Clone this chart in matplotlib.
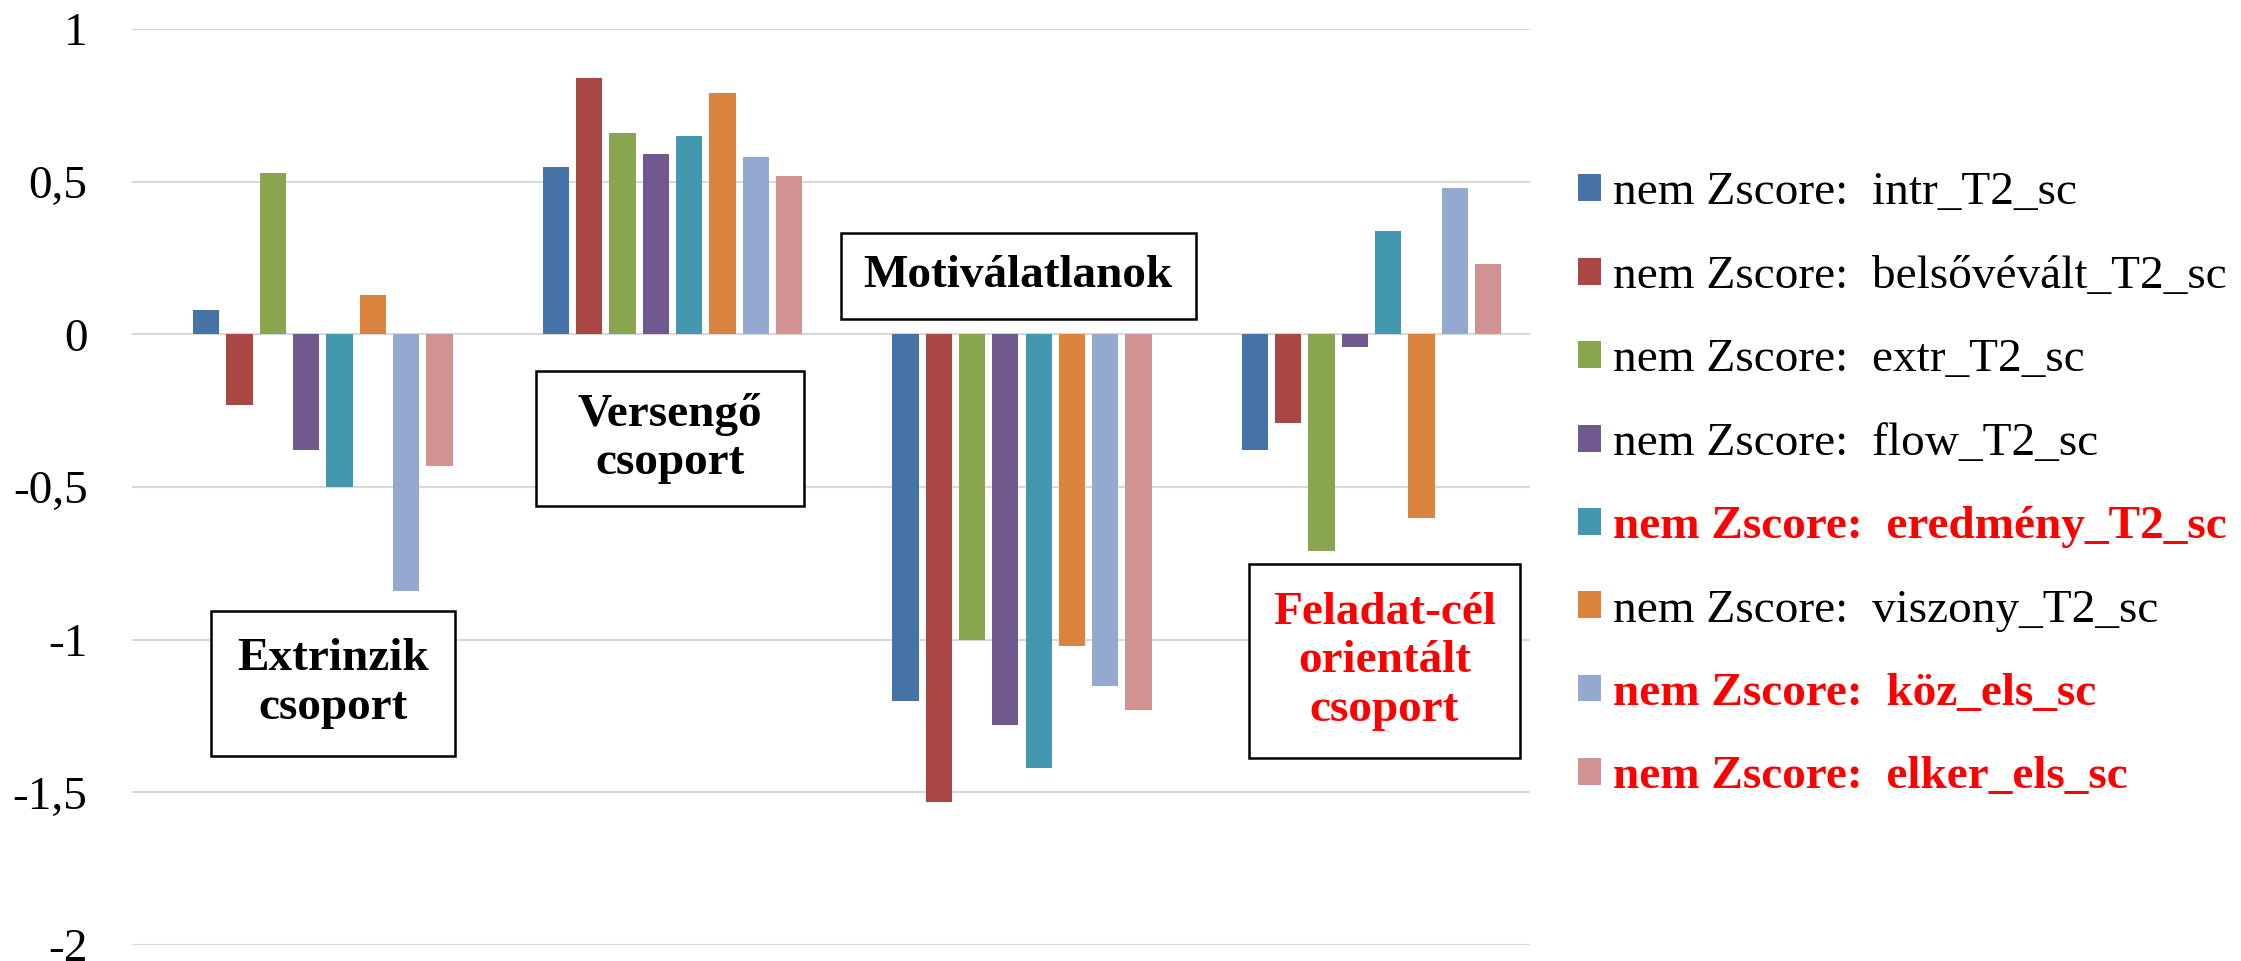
import matplotlib
matplotlib.use("Agg")
import matplotlib.pyplot as plt
import matplotlib.patches as patches
import numpy as np

plt.rcParams['font.family'] = ['Liberation Serif', 'DejaVu Serif']

# Groups (clusters on the x axis)
groups = ["Extrinzik", "Versengő", "Motiválatlanok", "Feladat-cél"]

# Series names as in the legend
series = [
    "nem Zscore:  intr_T2_sc",
    "nem Zscore:  belsővévált_T2_sc",
    "nem Zscore:  extr_T2_sc",
    "nem Zscore:  flow_T2_sc",
    "nem Zscore:  eredmény_T2_sc",
    "nem Zscore:  viszony_T2_sc",
    "nem Zscore:  köz_els_sc",
    "nem Zscore:  elker_els_sc",
]
highlighted = [False, False, False, False, True, False, True, True]

# values per series, one per group
intr = [0.08, 0.55, -1.20, -0.38]
belso = [-0.23, 0.84, -1.53, -0.29]
extr = [0.53, 0.66, -1.00, -0.71]
flow = [-0.38, 0.59, -1.28, -0.04]
eredmeny = [-0.50, 0.65, -1.42, 0.34]
viszony = [0.13, 0.79, -1.02, -0.60]
koz = [-0.84, 0.58, -1.15, 0.48]
elker = [-0.43, 0.52, -1.23, 0.23]
values = [intr, belso, extr, flow, eredmeny, viszony, koz, elker]

colors = ['#4572A7', '#AA4643', '#89A54E', '#71588F',
          '#4198AF', '#DB843D', '#93A9CF', '#D19392']

yticks = [1, 0.5, 0, -0.5, -1, -1.5, -2]
ytick_labels = ["1", "0,5", "0", "-0,5", "-1", "-1,5", "-2"]

fig = plt.figure(figsize=(22.41, 9.61), dpi=100)
ax = fig.add_axes([0.0589, 0.0166, 0.6238, 0.953])

x = np.arange(len(groups))
slot = 0.0953
width = 0.075
for i, (vals, col, name) in enumerate(zip(values, colors, series)):
    offs = (i - 3.5) * slot
    ax.bar(x + offs, vals, width=width, color=col, label=name, zorder=3)

ax.set_xlim(-0.546, 3.453)
ax.set_ylim(-2, 1)
ax.set_yticks(yticks)
ax.set_yticklabels(ytick_labels)
ax.set_xticks([])
ax.tick_params(axis='y', length=0, pad=32, labelsize=34)
for s in ax.spines.values():
    s.set_visible(False)
ax.grid(axis='y', color='#D9D9D9', linewidth=1.5, zorder=0)

# annotation boxes: (x0, x1, y0, y1, text, color)
boxes = [
    (-0.321, 0.377, -1.38, -0.907, "Extrinzik\ncsoport", 'black'),
    (0.610, 1.375, -0.563, -0.120, "Versengő\ncsoport", 'black'),
    (1.482, 2.497, 0.051, 0.334, "Motiválatlanok", 'black'),
    (2.650, 3.424, -1.388, -0.752, "Feladat-cél\norientált\ncsoport", 'red'),
]
for x0, x1, y0, y1, txt, tc in boxes:
    ax.add_patch(patches.Rectangle((x0, y0), x1 - x0, y1 - y0, facecolor='white',
                                   edgecolor='black', linewidth=1.8, zorder=4))
    ax.text((x0 + x1) / 2, (y0 + y1) / 2, txt, ha='center', va='center',
            fontsize=34, fontweight='bold', color=tc, zorder=5, linespacing=1.2)

leg = fig.legend(loc='center left', bbox_to_anchor=(0.704, 0.4955), frameon=False,
                 fontsize=34, handlelength=0.5, handleheight=0.5, handletextpad=0.25,
                 labelspacing=0.87, borderpad=0, borderaxespad=0)
for txt, hl in zip(leg.get_texts(), highlighted):
    if hl:
        txt.set_color('red')
        txt.set_fontweight('bold')

fig.savefig("out.png", dpi=100)
